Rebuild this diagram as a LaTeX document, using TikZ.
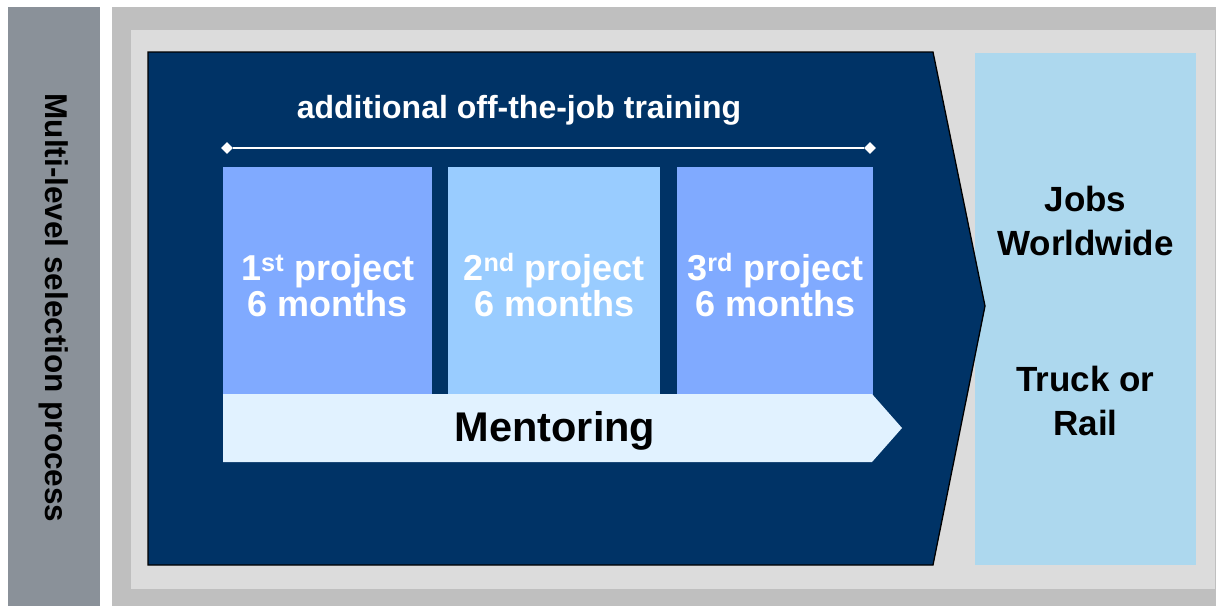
\documentclass[tikz,border=0pt]{standalone}
\usepackage{fontspec}
\setmainfont{Liberation Sans}
\usetikzlibrary{shapes.geometric}
\definecolor{bargray}{RGB}{138,145,153}
\definecolor{framegray}{RGB}{191,191,191}
\definecolor{innergray}{RGB}{220,220,220}
\definecolor{navy}{RGB}{0,51,102}
\definecolor{projA}{RGB}{128,170,255}
\definecolor{projB}{RGB}{153,204,255}
\definecolor{mentor}{RGB}{225,242,255}
\definecolor{jobsblue}{RGB}{173,216,238}
\tikzset{
  projbox/.style={draw=none, minimum width=#1, minimum height=228pt, inner sep=0pt, anchor=north west},
  projtext/.style={text=white, font=\bfseries\fontsize{36}{36}\selectfont, align=center},
  jobtext/.style={text=black, font=\bfseries\fontsize{35}{44}\selectfont, align=center},
  endmark/.style={diamond, fill=white, inner sep=0pt, minimum size=12pt}
}
\begin{document}
\begin{tikzpicture}[x=1pt,y=-1pt]
\useasboundingbox (0,0) rectangle (1216,606);
% left bar
\fill[bargray] (8,7) rectangle (100,606);
\node[rotate=-90, font=\bfseries\fontsize{31.5}{34}\selectfont] (sel) at (54,308) {Multi-level selection process};
% frame
\fill[framegray] (112,7) rectangle (1216,606);
\fill[innergray] (131,30) rectangle (1215,589);
% jobs box
\fill[jobsblue] (975,53) rectangle (1196,565);
\node[jobtext] (jobs) at (1085.5,221) {Jobs\\Worldwide};
\node[jobtext] (truck) at (1085.5,401) {Truck or\\Rail};
% navy chevron
\filldraw[fill=navy, draw=black, line width=1.3pt] (148,52) -- (933,52) -- (985,306) -- (933,565) -- (148,565) -- cycle;
% training line
\node[text=white, font=\bfseries\fontsize{32}{34}\selectfont] (train) at (519,110) {additional off-the-job training};
\node[endmark] (l) at (227,148) {};
\node[endmark] (r) at (870,148) {};
\draw[white, line width=2pt] (l) -- (r);
% project boxes
\node[projbox=209pt, fill=projA] (p1) at (223,167) {};
\node[projbox=212pt, fill=projB] (p2) at (448,167) {};
\node[projbox=196pt, fill=projA] (p3) at (677,167) {};
\node[projtext] (t1) at (p1.center) [yshift=-4pt] {1\textsuperscript{st} project\\6 months};
\node[projtext] (t2) at (p2.center) [yshift=-4pt] {2\textsuperscript{nd} project\\6 months};
\node[projtext] (t3) at (p3.center) [yshift=-4pt] {3\textsuperscript{rd} project\\6 months};
% mentoring arrow
\fill[mentor] (223,394) -- (872,394) -- (902,428) -- (872,462) -- (223,462) -- cycle;
\node[font=\bfseries\fontsize{41.5}{44}\selectfont] (ment) at (555,431) {Mentoring};
\end{tikzpicture}
\end{document}
